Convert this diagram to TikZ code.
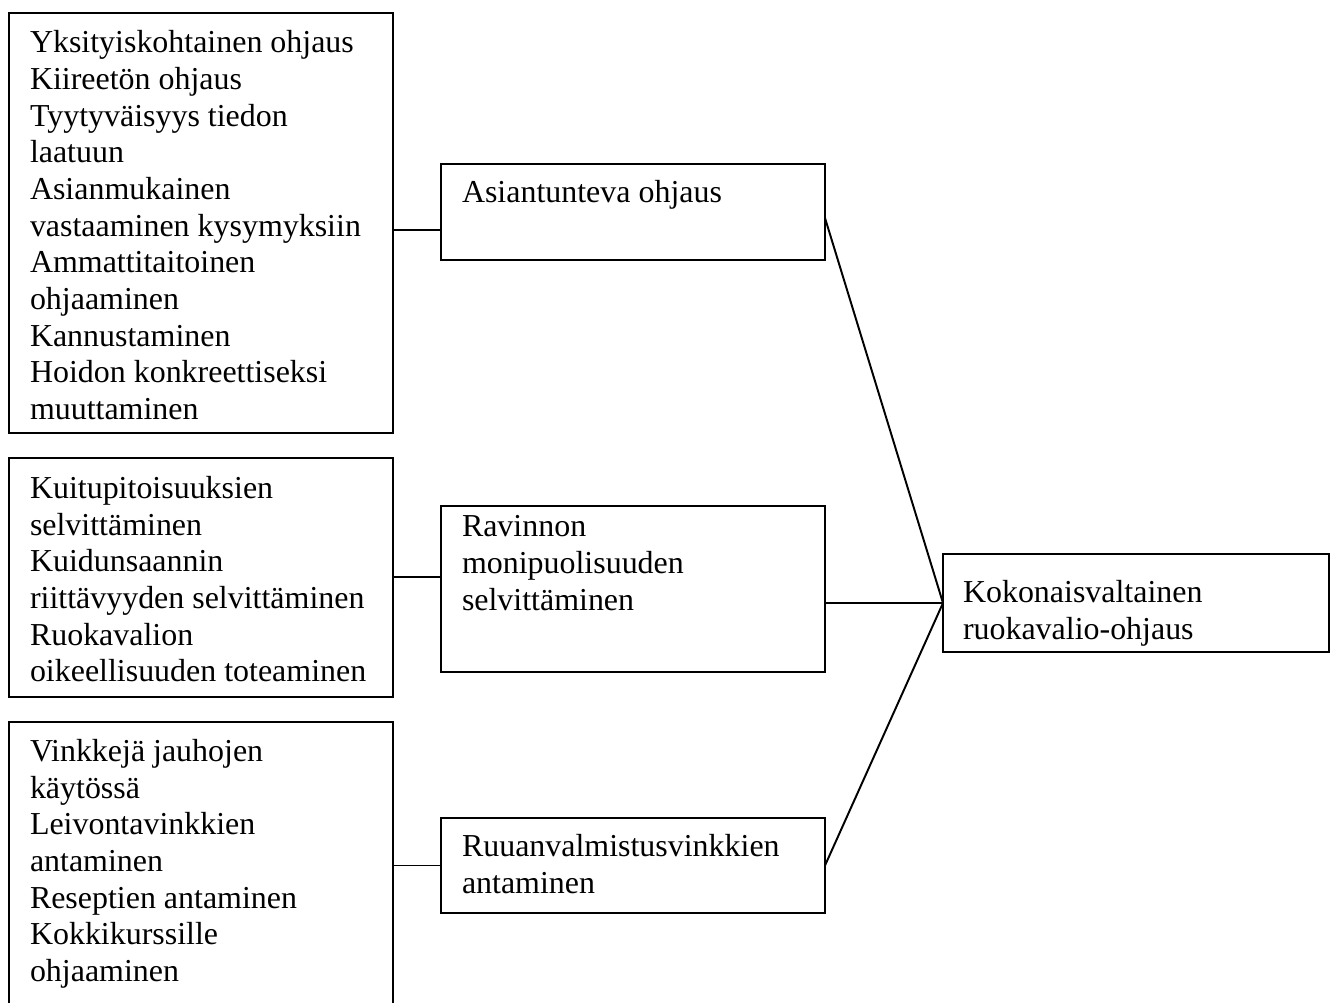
\documentclass[tikz,border=0pt]{standalone}
\usepackage{fontspec}
\setmainfont{Liberation Serif}
\usetikzlibrary{fit}
\begin{document}
\begin{tikzpicture}[x=0.36pt,y=-0.36pt,
  box/.style={draw, rectangle, line width=0.75pt, inner sep=0pt, outer sep=0pt},
  boxtext/.style={anchor=base west, inner sep=0pt, outer sep=0pt,
                  font=\fontsize{11.5}{13.2}\selectfont},
  link/.style={line width=0.7pt}]
  \useasboundingbox (0,0) rectangle (1334,1003);

  % boxes
  \node[box, fit={(9,13) (393,433)}] (L1) {};
  \node[box, fit={(9,458) (393,697)}] (L2) {};
  \node[box, fit={(9,722) (393,1012)}] (L3) {};
  \node[box, fit={(441,164) (825,260)}] (M1) {};
  \node[box, fit={(441,506) (825,672)}] (M2) {};
  \node[box, fit={(441,818) (825,913)}] (M3) {};
  \node[box, fit={(943,554) (1329,652)}] (R) {};

  % texts
  \node[boxtext] (L1t) at (30,53) {\begin{tabular}[t]{@{}l@{}}
    Yksityiskohtainen ohjaus\\
    Kiireetön ohjaus\\
    Tyytyväisyys tiedon\\
    laatuun\\
    Asianmukainen\\
    vastaaminen kysymyksiin\\
    Ammattitaitoinen\\
    ohjaaminen\\
    Kannustaminen\\
    Hoidon konkreettiseksi\\
    muuttaminen\end{tabular}};
  \node[boxtext] (L2t) at (30,498.6) {\begin{tabular}[t]{@{}l@{}}
    Kuitupitoisuuksien\\
    selvittäminen\\
    Kuidunsaannin\\
    riittävyyden selvittäminen\\
    Ruokavalion\\
    oikeellisuuden toteaminen\end{tabular}};
  \node[boxtext] (L3t) at (30,761.6) {\begin{tabular}[t]{@{}l@{}}
    Vinkkejä jauhojen\\
    käytössä\\
    Leivontavinkkien\\
    antaminen\\
    Reseptien antaminen\\
    Kokkikurssille\\
    ohjaaminen\end{tabular}};
  \node[boxtext] (M1t) at (462,203) {Asiantunteva ohjaus};
  \node[boxtext] (M2t) at (462,537) {\begin{tabular}[t]{@{}l@{}}
    Ravinnon\\
    monipuolisuuden\\
    selvittäminen\end{tabular}};
  \node[boxtext] (M3t) at (462,857) {\begin{tabular}[t]{@{}l@{}}
    Ruuanvalmistusvinkkien\\
    antaminen\end{tabular}};
  \node[boxtext] (Rt) at (963,603) {\begin{tabular}[t]{@{}l@{}}
    Kokonaisvaltainen\\
    ruokavalio-ohjaus\end{tabular}};

  % connectors
  \draw[link] (L1.east |- 0,230) -- (M1.west |- 0,230);
  \draw[link] (L2.east |- 0,577) -- (M2.west |- 0,577);
  \draw[link] (M3.west -| L3.east) -- (M3.west);
  \draw[link] (M1.east |- 0,218) -- (R.west);
  \draw[link] (R.west -| M2.east) -- (R.west);
  \draw[link] (M3.east) -- (R.west);
\end{tikzpicture}
\end{document}
